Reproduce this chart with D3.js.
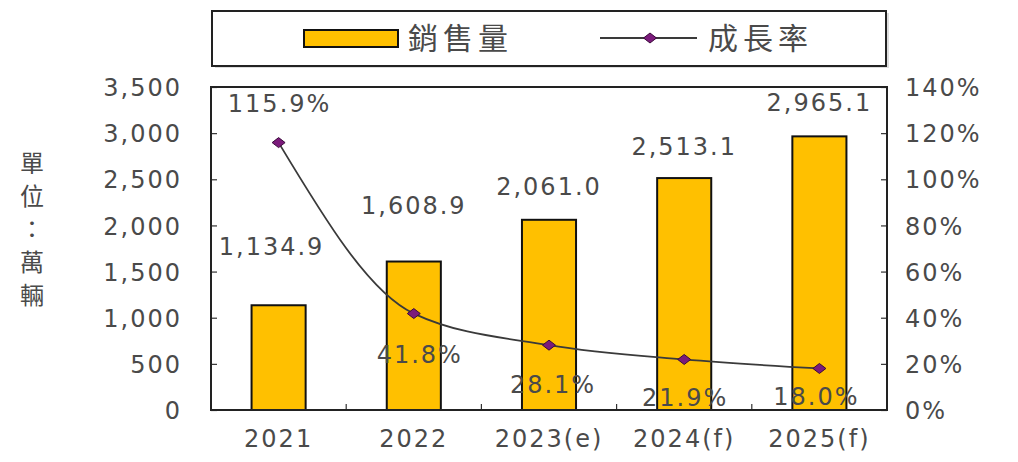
<!DOCTYPE html>
<html>
<head>
<meta charset="utf-8">
<script src="https://cdn.jsdelivr.net/npm/d3@7"></script>
<style>
  html, body { margin: 0; padding: 0; background: #fff; }
  svg { display: block; }
  text { font-family: "DejaVu Sans", "Noto Sans CJK TC", sans-serif; fill: #4a4a4a; }
</style>
</head>
<body>
<svg id="chart" width="1018" height="462"></svg>
<script>
// ---- data ----
const categories = ["2021", "2022", "2023(e)", "2024(f)", "2025(f)"];
const sales = [1134.9, 1608.9, 2061.0, 2513.1, 2965.1];
const growth = [1.159, 0.418, 0.281, 0.219, 0.180];
const salesLabels = ["1,134.9", "1,608.9", "2,061.0", "2,513.1", "2,965.1"];
const growthLabels = ["115.9%", "41.8%", "28.1%", "21.9%", "18.0%"];
const leftTicks = [0, 500, 1000, 1500, 2000, 2500, 3000, 3500];
const rightTicks = [0, 0.2, 0.4, 0.6, 0.8, 1.0, 1.2, 1.4];
const seriesNames = ["銷售量", "成長率"];
const unitTitle = ["單", "位", "：", "萬", "輛"];

// ---- layout ----
const plot = { left: 211, right: 887, top: 87, bottom: 410 };
const svg = d3.select("#chart");

const x = d3.scaleBand().domain(categories).range([plot.left, plot.right]).padding(0);
const yL = d3.scaleLinear().domain([0, 3500]).range([plot.bottom, plot.top]);
const yR = d3.scaleLinear().domain([0, 1.4]).range([plot.bottom, plot.top]);
const barW = x.bandwidth() * 0.4;

const fontSize = 24;
const ls = "2px";
const textFill = "#4a4a4a";

function styleText(sel) {
  sel.style("font-size", fontSize + "px").attr("fill", textFill).style("letter-spacing", ls);
}

// left axis
const gL = svg.append("g").attr("transform", `translate(${plot.left},0)`)
  .call(d3.axisLeft(yL).tickValues(leftTicks).tickSize(-6).tickPadding(29)
    .tickFormat(d3.format(",")));
gL.select(".domain").remove();
gL.selectAll("line").attr("stroke", "#333").attr("stroke-width", 1.2);
gL.selectAll("text").call(styleText).attr("dy", "0.36em");

// right axis
const gR = svg.append("g").attr("transform", `translate(${plot.right},0)`)
  .call(d3.axisRight(yR).tickValues(rightTicks).tickSize(-6).tickPadding(18)
    .tickFormat(d3.format(".0%")));
gR.select(".domain").remove();
gR.selectAll("line").attr("stroke", "#333").attr("stroke-width", 1.2);
gR.selectAll("text").call(styleText).attr("dy", "0.36em");

// bottom axis labels
const gB = svg.append("g").attr("transform", `translate(0,${plot.bottom})`)
  .call(d3.axisBottom(x).tickSize(0).tickPadding(20));
gB.select(".domain").remove();
gB.selectAll("text").call(styleText);

// category boundary ticks
svg.append("g").selectAll("line").data(categories.slice(1)).join("line")
  .attr("x1", d => x(d)).attr("x2", d => x(d))
  .attr("y1", plot.bottom).attr("y2", plot.bottom - 6)
  .attr("stroke", "#333").attr("stroke-width", 1.2);

// bars
svg.append("g").selectAll("rect").data(sales).join("rect")
  .attr("x", (d, i) => x(categories[i]) + x.bandwidth() / 2 - barW / 2)
  .attr("width", barW)
  .attr("y", d => yL(d))
  .attr("height", d => yL(0) - yL(d))
  .attr("fill", "#FFC000")
  .attr("stroke", "#111").attr("stroke-width", 2);

// frame
svg.append("rect").attr("x", plot.left).attr("y", plot.top)
  .attr("width", plot.right - plot.left).attr("height", plot.bottom - plot.top)
  .attr("fill", "none").attr("stroke", "#222").attr("stroke-width", 2);

// line
const cx = i => x(categories[i]) + x.bandwidth() / 2;
const line = d3.line().x((d, i) => cx(i)).y(d => yR(d)).curve(d3.curveMonotoneX);
svg.append("path").datum(growth).attr("d", line)
  .attr("fill", "none").attr("stroke", "#3a3a3a").attr("stroke-width", 1.8);

const diamond = "M0,-5 L6.5,0 L0,5 L-6.5,0 Z";
svg.append("g").selectAll("path").data(growth).join("path")
  .attr("transform", (d, i) => `translate(${cx(i)},${yR(d)})`)
  .attr("d", diamond)
  .attr("fill", "#7B1A7B").attr("stroke", "#3a0a3a").attr("stroke-width", 1);

// value labels (sales) - nudges above bars
const salesNudge = [-59, -56, -33, -32, -34];
const salesDx = [-7, 0, 0, 0, 0];
svg.append("g").selectAll("text").data(sales).join("text")
  .attr("x", (d, i) => cx(i) + salesDx[i])
  .attr("y", (d, i) => yL(d) + salesNudge[i])
  .attr("dy", "0.36em")
  .attr("text-anchor", "middle")
  .call(styleText)
  .text((d, i) => salesLabels[i]);

// growth labels
const growthNudge = [-39, 41, 39, 38, 28];
const growthDx = [1, 6, 4, 1, -3];
svg.append("g").selectAll("text").data(growth).join("text")
  .attr("x", (d, i) => cx(i) + growthDx[i])
  .attr("y", (d, i) => yR(d) + growthNudge[i])
  .attr("dy", "0.36em")
  .attr("text-anchor", "middle")
  .call(styleText)
  .text((d, i) => growthLabels[i]);

// unit title
svg.append("g").selectAll("text").data(unitTitle).join("text")
  .attr("x", 32).attr("y", (d, i) => 163 + i * 33)
  .attr("dy", "0.36em").attr("text-anchor", "middle")
  .style("font-family", "'Noto Sans CJK TC', sans-serif")
  .style("font-size", "24px").attr("fill", "#4a5060")
  .text(d => d);

// legend
const lg = svg.append("g");
lg.append("rect").attr("x", 215).attr("y", 13).attr("width", 674).attr("height", 55)
  .attr("fill", "#bbb").attr("opacity", 0.5);
lg.append("rect").attr("x", 212).attr("y", 11).attr("width", 674).attr("height", 55)
  .attr("fill", "#fff").attr("stroke", "#222").attr("stroke-width", 2);
lg.append("rect").attr("x", 304).attr("y", 30).attr("width", 94).attr("height", 17)
  .attr("fill", "#FFC000").attr("stroke", "#111").attr("stroke-width", 2);
lg.append("text").attr("x", 408).attr("y", 38).attr("dy", "0.36em")
  .style("font-family", "'Noto Sans CJK TC', sans-serif")
  .style("font-size", "30px").style("letter-spacing", "5px").attr("fill", "#555")
  .text(seriesNames[0]);
lg.append("line").attr("x1", 600).attr("x2", 697).attr("y1", 38).attr("y2", 38)
  .attr("stroke", "#3a3a3a").attr("stroke-width", 1.8);
lg.append("path").attr("transform", "translate(650,38)")
  .attr("d", diamond)
  .attr("fill", "#7B1A7B").attr("stroke", "#3a0a3a");
lg.append("text").attr("x", 708).attr("y", 38).attr("dy", "0.36em")
  .style("font-family", "'Noto Sans CJK TC', sans-serif")
  .style("font-size", "30px").style("letter-spacing", "5px").attr("fill", "#555")
  .text(seriesNames[1]);
</script>
</body>
</html>
